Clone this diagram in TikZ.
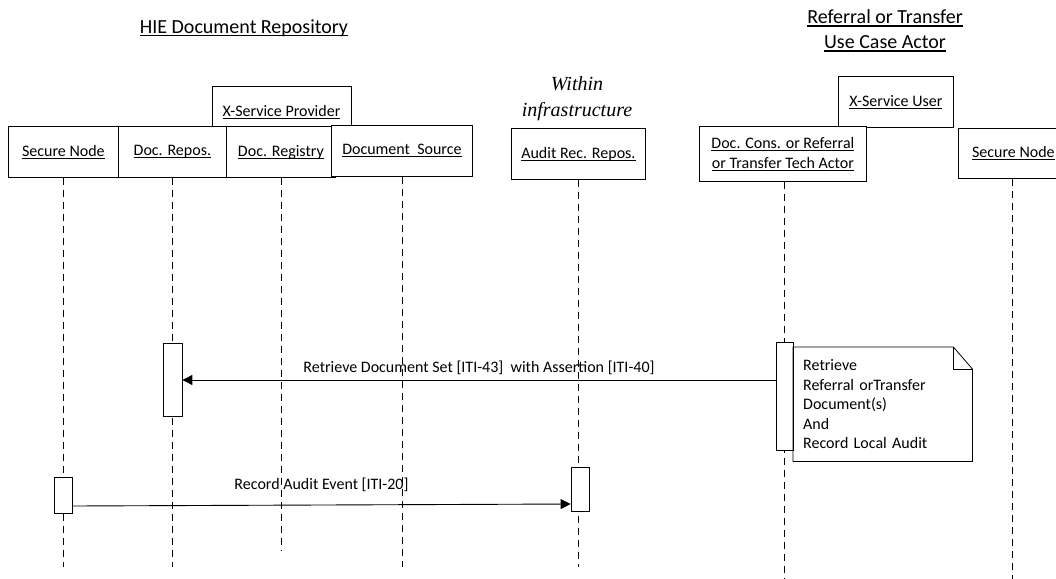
\documentclass[tikz,border=0pt]{standalone}
\usepackage{fontspec}
\setmainfont{Carlito}
\newfontfamily\serifit{Liberation Serif}
\usetikzlibrary{arrows.meta}
\newcommand{\ulx}[1]{\setbox0\hbox{#1}\rlap{\rule[-0.16em]{\wd0}{0.065em}}\box0}
\tikzset{
  actorbox/.style={draw, fill=white, line width=0.8pt, inner sep=0pt, align=center,
     font=\fontsize{16}{20}\selectfont},
  act/.style={draw, fill=white, line width=0.8pt, inner sep=0pt, minimum width=18pt},
  lifeline/.style={line width=0.7pt, dash pattern=on 7pt off 5pt},
  msg/.style={line width=0.9pt, -{Triangle[length=10pt,width=10pt]}},
  msglabel/.style={font=\fontsize{16}{20}\selectfont, inner sep=1pt},
  heading/.style={font=\fontsize{20}{25}\selectfont, align=center},
  notebox/.style={inner xsep=10pt, inner ysep=0pt, align=left, text width=159pt,
     minimum width=179pt, minimum height=114pt, font=\fontsize{16}{19.6}\selectfont}
}
\begin{document}
\begin{tikzpicture}[x=1pt, y=-1pt]
\useasboundingbox (0,0) rectangle (1056,578);
% headings
\node[heading] (h1) at (244,28) {\ulx{HIE Document Repository}};
\node[heading] (h2) at (885,30.5) {\ulx{Referral or Transfer}\\\ulx{Use Case Actor}};
\node[font=\serifit\itshape\fontsize{20}{26}\selectfont, align=center] (within) at (577,99) {Within\\infrastructure};
% top actors
\node[actorbox, anchor=north west, minimum width=139pt, minimum height=42pt] (xsp) at (212,86) {};
\node[font=\fontsize{16}{20}\selectfont] (xsplabel) at (281.5,112) {\ulx{X-Service Provider}};
\node[actorbox, anchor=north west, minimum width=110pt, minimum height=51pt] (sn1) at (8,126) {\ulx{Secure Node}};
\node[actorbox, anchor=north west, minimum width=108pt, minimum height=51pt] (rep) at (118,126) {\ulx{Doc. Repos.}};
\node[actorbox, anchor=north west, minimum width=109pt, minimum height=51pt] (reg) at (226,126) {\ulx{Doc. Registry}};
\node[actorbox, anchor=north west, minimum width=141pt, minimum height=51pt] (src) at (331,125) {\ulx{Document\ \ Source}};
\node[actorbox, anchor=north west, minimum width=134pt, minimum height=51pt] (aud) at (511,128) {\ulx{Audit Rec. Repos.}};
\node[actorbox, anchor=north west, minimum width=115pt, minimum height=51pt] (xsu) at (838,76) {\ulx{X-Service User}};
\node[actorbox, anchor=north west, minimum width=167pt, minimum height=55pt] (cons) at (699,126) {\ulx{Doc. Cons. or Referral}\\\ulx{or Transfer Tech Actor}};
\node[actorbox, anchor=north west, minimum width=110pt, minimum height=50pt] (sn2) at (958,128) {\ulx{Secure Node}};
% lifeline ends
\coordinate (endA) at (0,567);
\coordinate (endB) at (0,551);
\coordinate (endC) at (0,580);
\draw[lifeline] (sn1.south) -- (sn1.south |- endA);
\draw[lifeline] (rep.south) -- (rep.south |- endA);
\draw[lifeline] (reg.south) -- (reg.south |- endB);
\draw[lifeline] (src.south) -- (src.south |- endA);
\draw[lifeline] (aud.south) -- (aud.south |- endA);
\draw[lifeline] ([xshift=1.5pt]cons.south) -- ([xshift=1.5pt]cons.south |- endC);
\draw[lifeline] ([xshift=-1pt]sn2.south) -- ([xshift=-1pt]sn2.south |- endC);
% activations
\node[act, anchor=north, minimum width=19pt, minimum height=73pt] (a1) at (172.5,343) {};
\node[act, anchor=north, minimum width=17pt, minimum height=108pt] (a2) at (784.5,342) {};
\node[act, anchor=north, minimum width=18pt, minimum height=36pt] (a3) at (63,477) {};
\node[act, anchor=north, minimum width=18pt, minimum height=44pt] (a4) at (580,467) {};
% note
\node[notebox, anchor=north west] (note) at (793,347) {Retrieve\\Referral orTransfer\\Document(s)\\And\\Record Local Audit};
\draw[line width=0.8pt] (note.north west) -- ([xshift=-19pt]note.north east) -- ([yshift=-22pt]note.north east) -- (note.south east) -- (note.south west) -- cycle;
\draw[line width=0.8pt] ([xshift=-19pt]note.north east) -- ([xshift=-19pt,yshift=-22pt]note.north east) -- ([yshift=-22pt]note.north east);
% messages
\coordinate (m1) at (0,380);
\coordinate (m2a) at (0,506);
\coordinate (m2b) at (0,504);
\draw[msg] (a2.west |- m1) -- node[msglabel, midway, above=4pt] {Retrieve Document Set [ITI-43]\ \ with Assertion [ITI-40]} (a1.east |- m1);
\draw[msg] (a3.east |- m2a) -- node[msglabel, midway, above=12pt] {Record Audit Event [ITI-20]} (a4.west |- m2b);
\end{tikzpicture}
\end{document}
